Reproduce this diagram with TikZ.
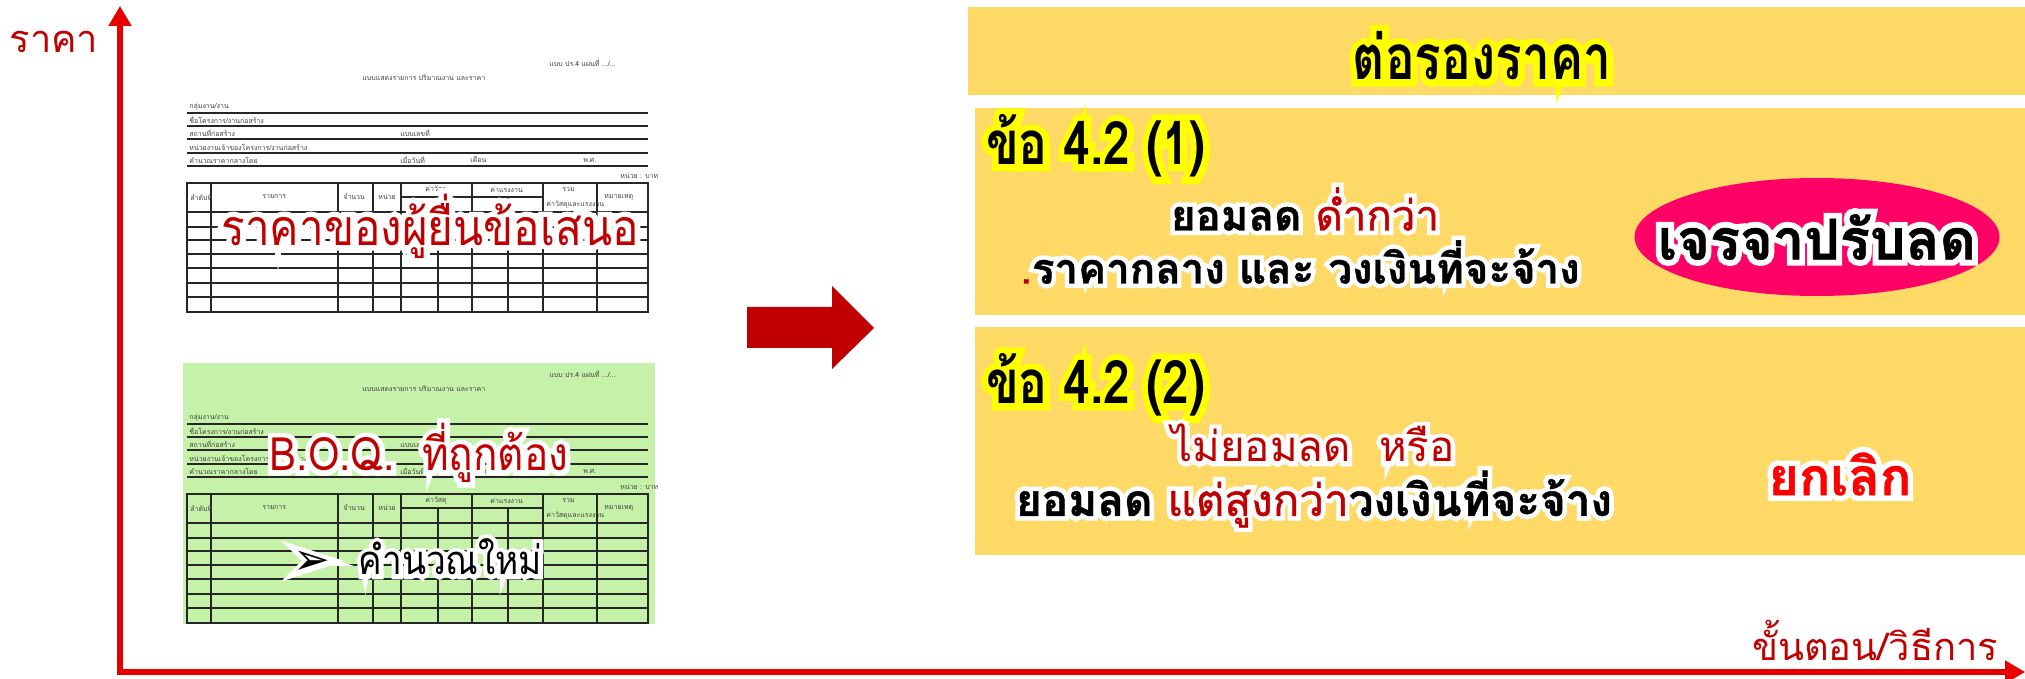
\documentclass[tikz,border=0pt]{standalone}
\usepackage{fontspec}
\setmainfont[Script=Thai]{Loma}
\newfontfamily\condfont[Script=Thai,FakeStretch=0.8]{Loma}
\newfontfamily\narrowfont[Script=Thai,FakeStretch=0.88]{Loma}
\newfontfamily\symfont{DejaVu Sans}
% white or yellow glow: a fat copy of the text under the text itself
\newcommand\halo[2]{\leavevmode\rlap{\addfontfeatures{FakeBold=22}\color{#1}#2}#2}
\usetikzlibrary{arrows.meta,shapes.geometric}

\definecolor{axisred}{RGB}{232,0,0}
\definecolor{textred}{RGB}{192,0,0}
\definecolor{panelyellow}{RGB}{255,217,102}
\definecolor{glowyellow}{RGB}{255,255,0}
\definecolor{formgreen}{RGB}{197,242,168}
\definecolor{dealpink}{RGB}{255,0,102}
\definecolor{cancelred}{RGB}{255,0,0}

\begin{document}
\begin{tikzpicture}[x=0.5pt,y=-0.5pt]
\tikzstyle{axis} = [draw=axisred, line width=3pt,
{Triangle[length=10pt,width=11pt]}-{Triangle[length=10pt,width=11pt]}]
\tikzstyle{axislabel} = [text=textred, font=\fontsize{19}{22}\selectfont]
\tikzstyle{panel} = [rectangle, fill=panelyellow, anchor=north west, inner sep=0pt]
\tikzstyle{heading} = [font=\condfont\bfseries\fontsize{31}{34}\selectfont]
\tikzstyle{clause} = [anchor=west, font=\condfont\bfseries\fontsize{30}{32}\selectfont]
\tikzstyle{note} = [font=\bfseries\fontsize{21}{24}\selectfont\addfontfeatures{FakeBold=1}]
\tikzstyle{formline} = [draw=black!85, line width=0.7pt]
\tikzstyle{formtext} = [anchor=west, inner sep=0pt, text=black!75, font=\fontsize{3.5}{4}\selectfont]
\tikzstyle{overlay} = [text=textred, font=\narrowfont\fontsize{25}{30}\selectfont]
\useasboundingbox (0,0) rectangle (2025,679);

% axes
\coordinate (ytip) at (120,6);
\coordinate (origin) at (120,672);
\coordinate (xtip) at (2025,672);
\draw[axis] (ytip) -- (origin) -- (xtip);
\node[axislabel] (price) at (54,42) {ราคา};
\node[axislabel, anchor=east] (steps) at (2005,640) {ขั้นตอน/วิธีการ};

% the two forms
\fill[formgreen] (183,363) rectangle (655,624);
\foreach \oy in {0,311} {
  \foreach \y in {113,126,139,153,166,212,227,240,254,268,283,297}
    \draw[formline] (187,\y+\oy) -- (648,\y+\oy);
  \draw[formline, line width=1pt] (187,183+\oy) rectangle (648,312+\oy);
  \foreach \x in {211,338,373,401,472,543,597}
    \draw[formline] (\x,183+\oy) -- (\x,312+\oy);
  \foreach \x in {438,508}
    \draw[formline] (\x,197+\oy) -- (\x,312+\oy);
  \draw[formline] (401,197+\oy) -- (543,197+\oy);
  \foreach \tx/\ty/\lbl [count=\i] in {549/63/{แบบ ปร.4 แผ่นที่ .../...},
      362/78/{แบบแสดงรายการ ปริมาณงาน และราคา}, 189/107/{กลุ่มงาน/งาน},
      189/120/{ชื่อโครงการ/งานก่อสร้าง}, 189/133/{สถานที่ก่อสร้าง}, 400/133/{แบบเลขที่},
      189/147/{หน่วยงานเจ้าของโครงการ/งานก่อสร้าง}, 189/160/{คำนวณราคากลางโดย},
      400/160/{เมื่อวันที่}, 470/160/{เดือน}, 583/160/{พ.ศ.}, 620/176/{หน่วย : บาท},
      190/197/{ลำดับที่}, 262/197/{รายการ}, 343/197/{จำนวน}, 378/197/{หน่วย},
      425/190/{ค่าวัสดุ}, 490/190/{ค่าแรงงาน}, 562/190/{รวม},
      546/205/{ค่าวัสดุและแรงงาน}, 604/197/{หมายเหตุ}}
    \node[formtext] (f\oy-\i) at (\tx,\ty+\oy) {\lbl};
}
\node[overlay] (offer) at (430,226) {\halo{white}{ราคาของผู้ยื่นข้อเสนอ}};
\node[overlay, font=\narrowfont\fontsize{23}{26}\selectfont] (boq) at (419,453)
  {\halo{white}{B.O.Q.\ \ ที่ถูกต้อง}};
\node[font=\narrowfont\fontsize{20}{24}\selectfont] (recalc) at (418,557)
  {{\symfont\fontsize{22}{24}\selectfont\halo{white}{➢}}\hspace{14pt}\halo{white}{คำนวณใหม่}};

% big arrow
\fill[textred] (747,307) -- (832,307) -- (832,286) -- (874,328) -- (832,369)
  -- (832,348) -- (747,348) -- cycle;

% row 1
\node[panel, minimum width=528.5pt, minimum height=44pt] (top) at (968,7) {};
\node[heading] (title) at (1482,56) {\halo{glowyellow}{ต่อรองราคา}};
% row 2
\node[panel, minimum width=525pt, minimum height=103.5pt] (case1) at (975,108) {};
\node[clause] (c1) at (979,146) {\halo{glowyellow}{ข้อ 4.2 (1)}};
\node[note] (c1a) at (1305,209) {\halo{white}{ยอมลด}
  \textcolor{textred}{\mdseries\halo{white}{ด่ำกว่า}}};
\node[note] (c1b) at (1300,262)
  {\textcolor{textred}{\mdseries .}\halo{white}{ราคากลาง และ วงเงินที่จะจ้าง}};
\node[ellipse, fill=dealpink, minimum width=182.5pt, minimum height=59pt] (deal)
  at (1817,237) {};
\node[note, font=\bfseries\fontsize{28}{30}\selectfont\addfontfeatures{FakeBold=1}]
  (dealtext) at (deal) {\halo{white}{เจรจาปรับลด}};
% row 3
\node[panel, minimum width=525pt, minimum height=114pt] (case2) at (975,327) {};
\node[clause] (c2) at (979,385) {\halo{glowyellow}{ข้อ 4.2 (2)}};
\node[note, text=textred, font=\fontsize{21}{24}\selectfont] (c2a) at (1313,443)
  {\halo{white}{ไม่ยอมลด\ \ หรือ}};
\node[note, font=\bfseries\fontsize{22}{24}\selectfont\addfontfeatures{FakeBold=1}]
  (c2b) at (1314,499) {\halo{white}{ยอมลด}
  \textcolor{textred}{\mdseries\halo{white}{แต่สูงกว่า}}\halo{white}{วงเงินที่จะจ้าง}};
\node[note, text=cancelred, font=\bfseries\fontsize{26}{30}\selectfont\addfontfeatures{FakeBold=1}]
  (cancel) at (1840,474) {\halo{white}{ยกเลิก}};
\end{tikzpicture}
\end{document}
